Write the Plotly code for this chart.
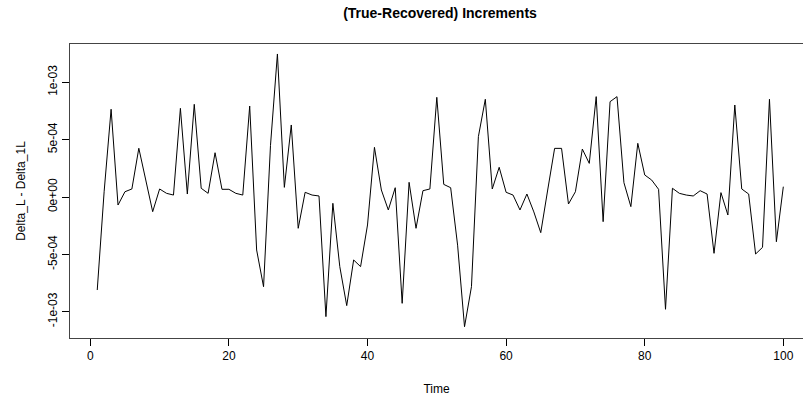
import plotly.graph_objects as go

time = list(range(1, 101))
diff_e3 = [
    -0.811, 0.05, 0.765, -0.07, 0.046, 0.07, 0.425, 0.148, -0.128, 0.07,
    0.032, 0.017, 0.773, 0.026, 0.808, 0.076, 0.032, 0.386, 0.067, 0.067,
    0.032, 0.017, 0.793, -0.462, -0.782, 0.45, 1.247, 0.084, 0.628, -0.273,
    0.041, 0.017, 0.009, -1.043, -0.055, -0.607, -0.947, -0.549, -0.607, -0.244,
    0.433, 0.061, -0.113, 0.081, -0.927, 0.128, -0.273, 0.055, 0.07, 0.869,
    0.110, 0.081, -0.42, -1.131, -0.782, 0.526, 0.852, 0.07, 0.259, 0.041,
    0.017, -0.113, 0.026, -0.13, -0.311, 0.061, 0.424, 0.424, -0.061, 0.046,
    0.418, 0.293, 0.875, -0.215, 0.831, 0.875, 0.125, -0.084, 0.468, 0.192,
    0.148, 0.067, -0.979, 0.076, 0.032, 0.017, 0.009, 0.055, 0.026, -0.491,
    0.038, -0.157, 0.802, 0.07, 0.026, -0.497, -0.439, 0.852, -0.39, 0.09,
]
values = [v * 1e-3 for v in diff_e3]

x_ticks = [0, 20, 40, 60, 80, 100]
y_ticks = [-1e-3, -5e-4, 0, 5e-4, 1e-3]
y_tick_labels = ["-1e-03", "-5e-04", "0e+00", "5e-04", "1e-03"]

font = "Liberation Sans, Arial, Helvetica, sans-serif"

fig = go.Figure()
fig.add_trace(go.Scatter(x=time, y=values, mode="lines",
                         line=dict(color="black", width=1), hoverinfo="skip"))

fig.update_layout(
    width=803, height=400,
    margin=dict(l=70, r=0, t=44, b=62, autoexpand=False),
    paper_bgcolor="white", plot_bgcolor="white",
    showlegend=False,
    font=dict(family=font, size=12, color="black"),
    title=dict(text="<b>(True-Recovered) Increments</b>", x=440 / 803, xanchor="center",
               y=1 - 13 / 400, yanchor="middle", font=dict(size=14, family=font)),
    xaxis=dict(range=[-2.93, 102.84], tickvals=x_ticks, ticks="outside", ticklen=7,
               tickcolor="black", showgrid=False, zeroline=False, showline=True,
               linecolor="#444", linewidth=1, mirror=True,
               title=dict(text="Time", standoff=22, font=dict(size=12)),
               tickfont=dict(size=12)),
    yaxis=dict(range=[-1.2293e-3, 1.3339e-3], tickvals=y_ticks, ticktext=y_tick_labels,
               ticks="outside", ticklen=7, tickcolor="black", tickangle=-90,
               showgrid=False, zeroline=False, showline=True, linecolor="#444",
               linewidth=1, mirror=False,
               title=dict(text="Delta_L - Delta_1L", standoff=18, font=dict(size=12)),
               tickfont=dict(size=12)),
)

fig.write_html("out.html", config={"displayModeBar": False},
               post_script="document.body.style.margin='0';document.body.style.overflow='hidden';")
